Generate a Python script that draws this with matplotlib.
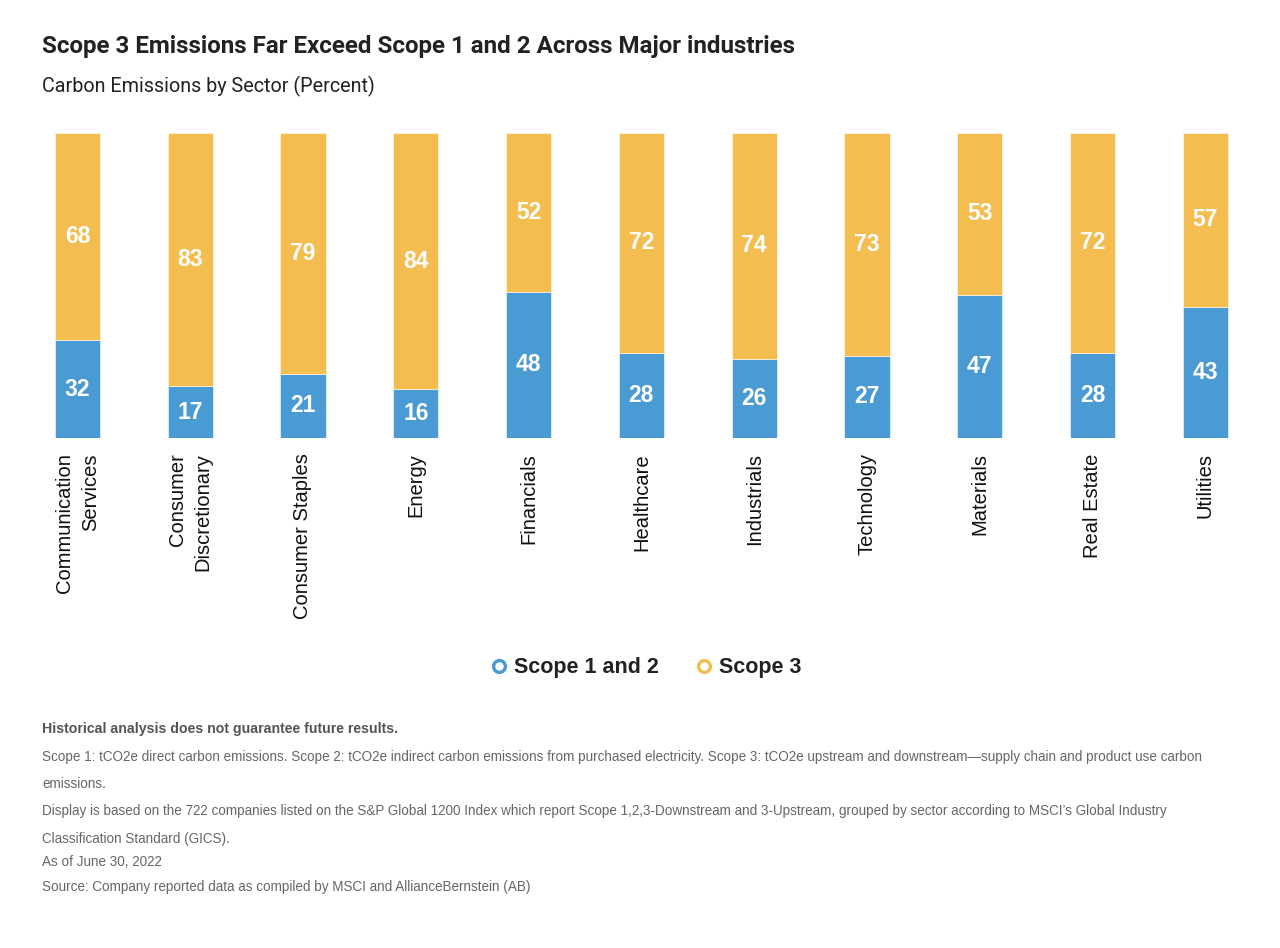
import matplotlib
matplotlib.use("Agg")
import matplotlib.pyplot as plt
from matplotlib.lines import Line2D
import numpy as np

# data
sectors = ["Communication\nServices", "Consumer\nDiscretionary", "Consumer Staples",
           "Energy", "Financials", "Healthcare", "Industrials", "Technology",
           "Materials", "Real Estate", "Utilities"]
scope12 = [32, 17, 21, 16, 48, 28, 26, 27, 47, 28, 43]
scope3 = [68, 83, 79, 84, 52, 72, 74, 73, 53, 72, 57]

BLUE = "#4a9ad3"
YELLOW = "#f3be4f"

title = "Scope 3 Emissions Far Exceed Scope 1 and 2 Across Major industries"
subtitle = "Carbon Emissions by Sector (Percent)"
notes = [
    "Scope 1: tCO2e direct carbon emissions. Scope 2: tCO2e indirect carbon emissions from purchased electricity. Scope 3: tCO2e upstream and downstream\u2014supply chain and product use carbon",
    "emissions.",
    "Display is based on the 722 companies listed on the S&P Global 1200 Index which report Scope 1,2,3-Downstream and 3-Upstream, grouped by sector according to MSCI\u2019s Global Industry",
    "Classification Standard (GICS).",
    "As of June 30, 2022",
    "Source: Company reported data as compiled by MSCI and AllianceBernstein (AB)",
]

plt.rcParams['font.family'] = ['Liberation Sans', 'DejaVu Sans']

fig = plt.figure(figsize=(12.8, 9.48), dpi=100)
ax = fig.add_axes([21/1280, 1-438/948, 1240.8/1280, 305/948])

x = np.arange(len(sectors))
b1 = ax.bar(x, scope12, width=0.4, color=BLUE, edgecolor="white", linewidth=0.4)
b2 = ax.bar(x, scope3, width=0.4, bottom=scope12, color=YELLOW, edgecolor="white", linewidth=0.4)

for i in range(len(sectors)):
    ax.text(x[i], scope12[i]/2, str(scope12[i]), ha="center", va="center",
            color="white", fontsize=16.5, fontweight="bold")
    ax.text(x[i], scope12[i] + scope3[i]/2, str(scope3[i]), ha="center", va="center",
            color="white", fontsize=16.5, fontweight="bold")

ax.set_xlim(-0.5, len(sectors) - 0.5)
ax.set_ylim(0, 100)
ax.set_xticks(x)
ax.set_xticklabels(sectors, rotation=90, ha="center", va="top", fontsize=14.5,
                   color="#111111", linespacing=1.45)
for lbl in ax.get_xticklabels():
    lbl.set_multialignment("right")
ax.tick_params(axis="x", length=0, pad=11)
ax.set_yticks([])
for s in ax.spines.values():
    s.set_visible(False)

fig.text(42/1280, 1-47/948, title, fontsize=17.4, fontweight="bold", color="#222222",
         va="center", family=["Roboto", "DejaVu Sans"])
fig.text(42/1280, 1-86/948, subtitle, fontsize=14.2, color="#222222",
         va="center", family=["Roboto", "DejaVu Sans"])

handles = [
    Line2D([], [], marker="o", linestyle="none", markersize=8.5, markerfacecolor="white",
           markeredgecolor=BLUE, markeredgewidth=2.4, label="Scope 1 and 2"),
    Line2D([], [], marker="o", linestyle="none", markersize=8.5, markerfacecolor="white",
           markeredgecolor=YELLOW, markeredgewidth=2.4, label="Scope 3"),
]
leg = fig.legend(handles=handles, loc="center", bbox_to_anchor=(645/1280, 1-668/948),
                 ncol=2, frameon=False, handlelength=1.0, handletextpad=0.2,
                 columnspacing=1.6, prop={"weight": "bold", "size": 15.5})
for t in leg.get_texts():
    t.set_color("#222222")

fig.text(42/1280, 1-729/948, "Historical analysis does not guarantee future results.",
         fontsize=10.2, fontweight="bold", color="#555555", va="center")
ys = [757, 784, 811, 839, 862, 887]
for y, line in zip(ys, notes):
    fig.text(42/1280, 1-y/948, line, fontsize=9.75, color="#666666", va="center")

fig.savefig("out.png", dpi=100)
